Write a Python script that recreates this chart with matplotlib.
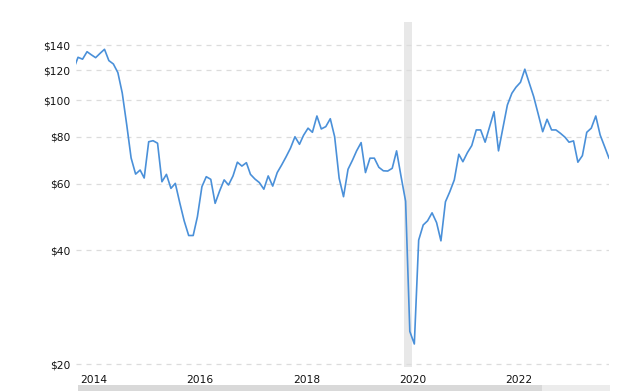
"""
Monthly oil price (inflation adjusted), log scale, with the 2020 recession band
"""
import matplotlib
matplotlib.use('Agg')
import matplotlib.pyplot as plt
import matplotlib.transforms as mtransforms
from matplotlib.patches import Rectangle
from matplotlib.ticker import FixedLocator, NullLocator
import pandas as pd

# monthly closes, first value is Nov 2013 (partly cut off at the left edge)
first_month = '2013-11-01'
prices = [
	121.0, 129.9, 128.4, 134.4, 132.0, 129.6, 133.0, 136.4, 127.3, 124.7,
	118.3, 104.5, 86.0, 70.3, 63.7, 65.3, 62.2, 77.6, 78.1, 76.9,
	60.8, 63.6, 58.4, 60.2, 53.4, 47.9, 43.8, 43.8, 49.1, 59.0,
	62.7, 61.7, 53.3, 57.5, 61.5, 59.6, 63.0, 68.5, 66.9, 68.3,
	63.6, 61.8, 60.5, 58.1, 63.0, 59.2, 64.3, 67.3, 70.8, 74.6,
	80.0, 76.4, 80.7, 84.3, 82.2, 90.8, 83.9, 85.1, 89.3, 80.0,
	62.1, 55.5, 65.6, 69.4, 73.4, 77.2, 64.3, 70.2, 70.2, 66.4,
	65.0, 64.9, 66.0, 73.4, 62.7, 54.0, 24.4, 22.6, 42.6, 46.7,
	47.9, 50.3, 47.4, 42.4, 53.8, 57.2, 61.5, 71.9, 68.7, 72.6,
	75.8, 83.4, 83.4, 77.4, 85.1, 93.2, 73.4, 84.3, 97.1, 104.3,
	108.2, 111.5, 120.8, 110.9, 102.2, 91.9, 82.5, 89.0, 83.4, 83.4,
	81.7, 79.8, 77.4, 78.0, 68.5, 71.3, 82.2, 84.3, 90.8, 80.9,
	75.3, 70.2,
]
recession = ('2020-02-01', '2020-04-01')
y_ticks = [20, 40, 60, 80, 100, 120, 140]
x_years = [2014, 2016, 2018, 2020, 2022]

def main():
	dates = pd.date_range(first_month, periods=len(prices), freq='MS') + pd.Timedelta(days=14)

	fig = plt.figure(figsize=(6.4, 3.91), dpi=100)
	ax = fig.add_axes([76/640, 1 - 367/391, 533/640, 345/391])

	ax.axvspan(pd.Timestamp(recession[0]), pd.Timestamp(recession[1]),
		color='#e8e8e8', lw=0, zorder=0)
	ax.plot(dates, prices, color='#4a90d9', lw=1.2, zorder=3)

	ax.set_yscale('log')
	ax.set_ylim(19.64, 161.1)
	ax.set_xlim(pd.Timestamp('2013-12-01'), dates[-1])
	ax.yaxis.set_major_locator(FixedLocator(y_ticks))
	ax.yaxis.set_minor_locator(NullLocator())
	ax.set_yticklabels([f'${v}' for v in y_ticks])
	ax.set_xticks([pd.Timestamp(f'{y}-01-01') for y in x_years])
	ax.set_xticklabels([str(y) for y in x_years], ha='left')
	ax.xaxis.set_minor_locator(NullLocator())
	offset = mtransforms.ScaledTranslation(2/100, 0, fig.dpi_scale_trans)
	for lbl in ax.get_xticklabels():
		lbl.set_transform(lbl.get_transform() + offset)

	ax.grid(axis='y', color='#dcdcdc', ls=(0, (4, 4)), lw=0.9, zorder=1)
	ax.grid(axis='x', visible=False)
	ax.tick_params(length=0, labelsize=7.7, colors='#111111')
	ax.tick_params(axis='y', pad=4)
	ax.tick_params(axis='x', pad=6)
	for s in ax.spines.values():
		s.set_visible(False)

	# scrollbar strip at the very bottom
	fig.patches.append(Rectangle((78/640, 0), (542-78)/640, 6/391,
		transform=fig.transFigure, color='#d9d9d9', lw=0))
	fig.patches.append(Rectangle((542/640, 0), (610-542)/640, 6/391,
		transform=fig.transFigure, color='#ececec', lw=0))

	fig.savefig('out.png', dpi=100)

if __name__== '__main__':
	main()
